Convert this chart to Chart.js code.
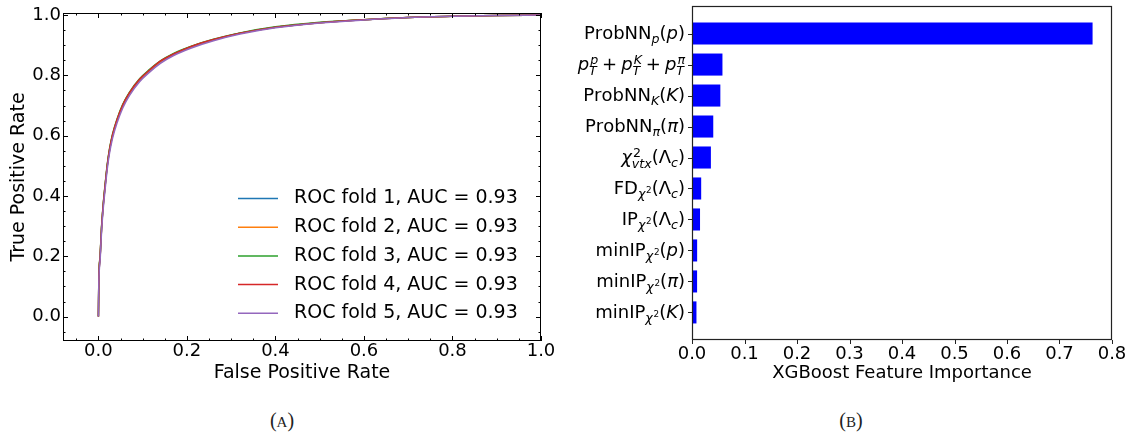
<!DOCTYPE html>
<html>
<head>
<meta charset="utf-8">
<script src="https://cdn.jsdelivr.net/npm/chart.js@4.4.1/dist/chart.umd.min.js"></script>
<style>
  body { margin: 0; background: #fff; }
  #page { position: relative; width: 1134px; height: 438px; overflow: hidden; }
  .box { position: absolute; top: 0; height: 385px; }
  .cap { position: absolute; top: 408px; width: 80px; margin-left: -40px; text-align: center;
         font: 20px "Liberation Serif", serif; color: #222; line-height: 24px; }
  .cap span { font-size: 15px; }
</style>
</head>
<body>
<div id="page">
  <div class="box" style="left:0;width:560px"><canvas id="roc"></canvas></div>
  <div class="box" style="left:565px;width:569px"><canvas id="imp"></canvas></div>
  <div class="cap" style="left:282px">(<span>A</span>)</div>
  <div class="cap" style="left:851px">(<span>B</span>)</div>
</div>
<script>
const FONT = '"DejaVu Sans", sans-serif';
Chart.defaults.font.family = FONT;
Chart.defaults.color = '#000';
Chart.defaults.animation = false;

// (A) ROC curves, one per fold
const fpr      = [0, 0.001, 0.004, 0.007, 0.011, 0.015, 0.02, 0.025, 0.032, 0.042, 0.055, 0.07, 0.093, 0.115, 0.14, 0.17, 0.21, 0.26, 0.32, 0.4, 0.5, 0.6, 0.7, 0.8, 0.9, 1.0];
const tprFold1 = [0, 0.12, 0.20, 0.29, 0.37, 0.43, 0.50, 0.55, 0.60, 0.65, 0.70, 0.74, 0.785, 0.815, 0.845, 0.87, 0.895, 0.918, 0.94, 0.96, 0.975, 0.985, 0.992, 0.996, 0.999, 1.0];
const tprFold2 = [0, 0.12, 0.20, 0.29, 0.37, 0.43, 0.50, 0.551, 0.601, 0.651, 0.701, 0.741, 0.786, 0.816, 0.846, 0.871, 0.896, 0.918, 0.94, 0.96, 0.975, 0.985, 0.992, 0.996, 0.999, 1.0];
const tprFold3 = [0, 0.125, 0.205, 0.295, 0.375, 0.436, 0.505, 0.556, 0.606, 0.655, 0.704, 0.744, 0.789, 0.819, 0.848, 0.873, 0.897, 0.92, 0.941, 0.961, 0.976, 0.985, 0.992, 0.996, 0.999, 1.0];
const tprFold4 = [0, 0.122, 0.202, 0.292, 0.372, 0.433, 0.502, 0.553, 0.603, 0.653, 0.702, 0.742, 0.787, 0.817, 0.847, 0.871, 0.896, 0.919, 0.94, 0.96, 0.975, 0.985, 0.992, 0.996, 0.999, 1.0];
const tprFold5 = [0, 0.112, 0.19, 0.28, 0.36, 0.42, 0.49, 0.541, 0.592, 0.642, 0.692, 0.733, 0.779, 0.81, 0.84, 0.866, 0.891, 0.915, 0.937, 0.958, 0.974, 0.984, 0.992, 0.996, 0.999, 1.0];
const foldNames  = ['ROC fold 1, AUC = 0.93', 'ROC fold 2, AUC = 0.93', 'ROC fold 3, AUC = 0.93', 'ROC fold 4, AUC = 0.93', 'ROC fold 5, AUC = 0.93'];
const foldColors = ['#1f77b4', '#ff7f0e', '#2ca02c', '#d62728', '#9467bd'];
const rocTicks   = [0, 0.2, 0.4, 0.6, 0.8, 1.0];

// (B) feature importance, top to bottom
const features   = ['ProbNN$_p(p)$', '$p_T^p + p_T^K + p_T^\\pi$', 'ProbNN$_K(K)$', 'ProbNN$_\\pi(\\pi)$',
                    '$\\chi^2_{vtx}(\\Lambda_c)$', 'FD$_{\\chi^2}(\\Lambda_c)$', 'IP$_{\\chi^2}(\\Lambda_c)$',
                    'minIP$_{\\chi^2}(p)$', 'minIP$_{\\chi^2}(\\pi)$', 'minIP$_{\\chi^2}(K)$'];
const importance = [0.763, 0.058, 0.054, 0.0405, 0.036, 0.0175, 0.0153, 0.0098, 0.0097, 0.0085];
const impTicks   = [0, 0.1, 0.2, 0.3, 0.4, 0.5, 0.6, 0.7, 0.8];

// tiny mathtext-ish parser so the tick labels get sub/superscripts
const GREEK = { pi: 'π', chi: 'χ', Lambda: 'Λ' };
function parseLabel(src) {
  let i = 0, math = false;
  function token() {
    const c = src[i++];
    if (c === '\\') {
      let name = '';
      while (i < src.length && /[A-Za-z]/.test(src[i])) name += src[i++];
      const g = GREEK[name];
      return { t: g, it: g === g.toLowerCase() };
    }
    if (c === '{') return { group: group() };
    return { t: c, it: math && /[A-Za-z]/.test(c), op: math && c === '+' };
  }
  function group() {
    const out = [];
    while (i < src.length) {
      const c = src[i];
      if (c === '}') { i++; break; }
      if (c === '$') { math = !math; i++; continue; }
      if (math && c === ' ') { i++; continue; }
      if (math && (c === '_' || c === '^')) {
        i++;
        const arg = token();
        out[out.length - 1][c === '_' ? 'sub' : 'sup'] = arg.group || [{ base: arg }];
        continue;
      }
      out.push({ base: token() });
    }
    return out;
  }
  return group();
}

function mathRun(ctx, atoms, x, y, size, draw) {
  let cx = x;
  for (const a of atoms) {
    const b = a.base;
    ctx.font = (b.it ? 'italic ' : '') + size + 'px ' + FONT;
    const pad = b.op ? size * 0.22 : 0;
    const w = ctx.measureText(b.t).width + 2 * pad;
    if (draw) ctx.fillText(b.t, cx + pad, y);
    const ss = size * 0.7;
    let sw = 0;
    if (a.sup) {
      const kick = b.it ? size * 0.06 : 0;
      sw = Math.max(sw, kick + mathRun(ctx, a.sup, cx + w + kick, y - size * 0.36, ss, draw));
    }
    if (a.sub) {
      const drop = a.sup ? size * 0.3 : size * 0.2;
      sw = Math.max(sw, mathRun(ctx, a.sub, cx + w, y + drop, ss, draw));
    }
    cx += w + sw;
  }
  return cx - x;
}

const rocDecor = {
  id: 'rocDecor',
  afterDatasetsDraw(chart) {
    const { ctx, chartArea: a, scales: { x, y } } = chart;
    ctx.save();
    ctx.strokeStyle = '#000';
    ctx.lineWidth = 1;
    ctx.strokeRect(a.left + 0.5, a.top + 0.5, a.right - a.left - 1, a.bottom - a.top - 1);
    const tick = (v, len, horiz) => {
      ctx.beginPath();
      if (horiz) {
        const px = Math.round(x.getPixelForValue(v)) + 0.5;
        ctx.moveTo(px, a.bottom); ctx.lineTo(px, a.bottom - len);
        ctx.moveTo(px, a.top); ctx.lineTo(px, a.top + len);
      } else {
        const py = Math.round(y.getPixelForValue(v)) + 0.5;
        ctx.moveTo(a.left, py); ctx.lineTo(a.left + len, py);
        ctx.moveTo(a.right, py); ctx.lineTo(a.right - len, py);
      }
      ctx.stroke();
    };
    for (let k = -2; k <= 20; k++) {
      const v = k * 0.05;
      const major = rocTicks.some(t => Math.abs(t - v) < 1e-6);
      if (v >= x.min - 1e-6 && v <= x.max + 1e-6) tick(v, major ? 5 : 2.5, true);
      if (v >= y.min - 1e-6 && v <= y.max + 1e-6) tick(v, major ? 5 : 2.5, false);
    }
    // legend, lower right inside the axes
    ctx.font = '19px ' + FONT;
    ctx.textBaseline = 'middle';
    chart.data.datasets.forEach((ds, i) => {
      const ly = a.top + 185.5 + i * 28.7;
      ctx.strokeStyle = ds.borderColor;
      ctx.lineWidth = 1.5;
      ctx.beginPath(); ctx.moveTo(a.left + 175, ly); ctx.lineTo(a.left + 215, ly); ctx.stroke();
      ctx.fillStyle = '#000';
      ctx.fillText(ds.label, a.left + 231, ly);
    });
    ctx.restore();
  }
};

const impDecor = {
  id: 'impDecor',
  afterDraw(chart) {
    const { ctx, chartArea: a, scales: { x, y } } = chart;
    ctx.save();
    ctx.strokeStyle = '#222';
    ctx.lineWidth = 1.2;
    ctx.strokeRect(a.left + 0.5, a.top + 0.5, a.right - a.left - 1, a.bottom - a.top - 1);
    ctx.lineWidth = 1;
    impTicks.forEach(v => {
      const px = Math.round(x.getPixelForValue(v)) + 0.5;
      ctx.beginPath(); ctx.moveTo(px, a.bottom); ctx.lineTo(px, a.bottom + 4); ctx.stroke();
    });
    ctx.fillStyle = '#000';
    ctx.textBaseline = 'alphabetic';
    features.forEach((f, i) => {
      const py = y.getPixelForValue(i);
      ctx.beginPath(); ctx.moveTo(a.left, Math.round(py) + 0.5); ctx.lineTo(a.left - 4, Math.round(py) + 0.5); ctx.stroke();
      const atoms = parseLabel(f);
      const w = mathRun(ctx, atoms, 0, 0, 18, false);
      mathRun(ctx, atoms, a.left - 7 - w, py + 5.5, 18, true);
    });
    ctx.restore();
  }
};

const folds = [tprFold1, tprFold2, tprFold3, tprFold4, tprFold5];

new Chart(document.getElementById('roc'), {
  type: 'scatter',
  data: {
    datasets: folds.map((tpr, i) => ({
      label: foldNames[i],
      data: fpr.map((f, j) => ({ x: f, y: tpr[j] })),
      borderColor: foldColors[i], backgroundColor: foldColors[i],
      borderWidth: 1.5, pointRadius: 0, showLine: true, fill: false,
      cubicInterpolationMode: 'monotone',
      order: folds.length - i
    }))
  },
  options: {
    responsive: true, maintainAspectRatio: false,
    layout: { padding: { left: 0, top: 13, right: 19, bottom: 0 } },
    plugins: { legend: { display: false }, tooltip: { enabled: false } },
    scales: {
      x: {
        type: 'linear', min: -0.08, max: 1.0,
        afterBuildTicks: s => { s.ticks = rocTicks.map(v => ({ value: v })); },
        afterFit: s => { s.height = 44; },
        grid: { display: false, drawTicks: false }, border: { display: false },
        ticks: { font: { size: 18 }, padding: 0, maxRotation: 0, callback: v => v.toFixed(1) },
        title: { display: true, text: 'False Positive Rate', font: { size: 19 }, padding: { top: 0, bottom: 1 } }
      },
      y: {
        type: 'linear', min: -0.081, max: 1.007,
        afterBuildTicks: s => { s.ticks = rocTicks.map(v => ({ value: v })); },
        afterFit: s => { s.width = 63; },
        grid: { display: false, drawTicks: false }, border: { display: false },
        ticks: { font: { size: 18 }, padding: 2, callback: v => v.toFixed(1) },
        title: { display: true, text: 'True Positive Rate', font: { size: 19 }, padding: { top: 8, bottom: 0 } }
      }
    }
  },
  plugins: [rocDecor]
});

new Chart(document.getElementById('imp'), {
  type: 'bar',
  data: {
    datasets: [{
      label: 'XGBoost Feature Importance',
      data: importance.map((v, i) => ({ x: v, y: i })),
      backgroundColor: '#0000ff', borderWidth: 0,
      barPercentage: 0.8, categoryPercentage: 1
    }]
  },
  options: {
    indexAxis: 'y',
    responsive: true, maintainAspectRatio: false,
    layout: { padding: { left: 0, top: 6, right: 22, bottom: 0 } },
    plugins: { legend: { display: false }, tooltip: { enabled: false } },
    scales: {
      x: {
        type: 'linear', min: 0, max: 0.8,
        afterBuildTicks: s => { s.ticks = impTicks.map(v => ({ value: v })); },
        afterFit: s => { s.height = 45; },
        grid: { display: false, drawTicks: false }, border: { display: false },
        ticks: { font: { size: 18 }, padding: 4, maxRotation: 0, callback: v => v.toFixed(1) },
        title: { display: true, text: 'XGBoost Feature Importance', font: { size: 18 }, padding: { top: 0, bottom: 1 } }
      },
      y: {
        type: 'linear', min: -0.89, max: 9.89, reverse: true, offset: false,
        afterFit: s => { s.width = 127; },
        grid: { display: false, drawTicks: false }, border: { display: false },
        ticks: { display: false }
      }
    }
  },
  plugins: [impDecor]
});
</script>
</body>
</html>
